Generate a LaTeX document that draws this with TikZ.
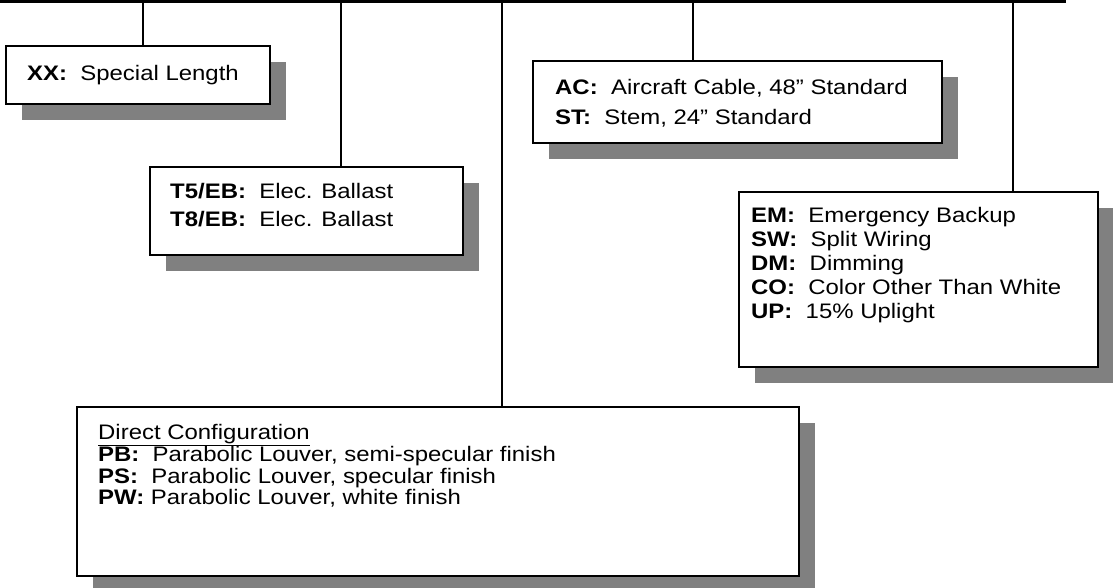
\documentclass[tikz,border=0pt]{standalone}
\usepackage{fontspec}
\setmainfont{Liberation Sans}
\newfontfamily\widefont{Liberation Sans}[FakeStretch=1.14]
\usetikzlibrary{shadows}
\definecolor{shade}{HTML}{808080}
\tikzset{
  box/.style={draw=black, line width=2pt, fill=white, inner sep=0pt, outer sep=0pt,
    drop shadow={shadow xshift=16pt, shadow yshift=-16pt, fill=shade, opacity=1}},
  txt/.style={anchor=north west, align=left, inner sep=0pt},
  link/.style={line width=2pt},
  bus/.style={line width=3pt},
}
\newcommand{\tf}[1]{\widefont\fontsize{21}{#1}\selectfont}
\begin{document}
\begin{tikzpicture}[x=1pt,y=-1pt]
\useasboundingbox (0,0) rectangle (1113,588);
% bus
\coordinate (busL) at (0,1.5);
\coordinate (busR) at (1066,1.5);
\draw[bus] (busL) -- (busR);
% boxes
\node[box, minimum width=264pt, minimum height=58pt] (b1) at (138,75) {};
\node[box, minimum width=313pt, minimum height=88pt] (b2) at (306.5,211) {};
\node[box, minimum width=409pt, minimum height=82pt] (b3) at (737.5,102) {};
\node[box, minimum width=359pt, minimum height=175pt] (b4) at (918.5,279.5) {};
\node[box, minimum width=722pt, minimum height=169pt] (b5) at (438,491.5) {};
% texts
\node[txt, font=\tf{24}] (t1) at (27,65) {\textbf{XX:}~ Special Length};
\node[txt, font=\tf{28}] (t2) at (170,183) {\textbf{T5/EB:}~ Elec. Ballast\\\textbf{T8/EB:}~ Elec. Ballast};
\node[txt, font=\tf{30}] (t3) at (555,79) {\textbf{AC:}~ Aircraft Cable, 48” Standard\\\textbf{ST:}~ Stem, 24” Standard};
\node[txt, font=\tf{24}] (t4) at (751,207) {\textbf{EM:}~ Emergency Backup\\\textbf{SW:}~ Split Wiring\\\textbf{DM:}~ Dimming\\\textbf{CO:}~ Color Other Than White\\\textbf{UP:}~ 15\% Uplight};
\node[txt, font=\tf{21.5}] (t5) at (98,424) {\underline{Direct Configuration}\\\textbf{PB:}~ Parabolic Louver, semi-specular finish\\\textbf{PS:}~ Parabolic Louver, specular finish\\\textbf{PW:} Parabolic Louver, white finish};
% connectors
\coordinate (c1) at (143,1.5);
\coordinate (c2) at (341,1.5);
\coordinate (c3) at (693,1.5);
\coordinate (c4) at (1013,1.5);
\coordinate (c5) at (502,1.5);
\draw[link] (c1) -- (c1 |- b1.north);
\draw[link] (c2) -- (c2 |- b2.north);
\draw[link] (c3) -- (c3 |- b3.north);
\draw[link] (c4) -- (c4 |- b4.north);
\draw[link] (c5) -- (c5 |- b5.north);
\end{tikzpicture}
\end{document}
